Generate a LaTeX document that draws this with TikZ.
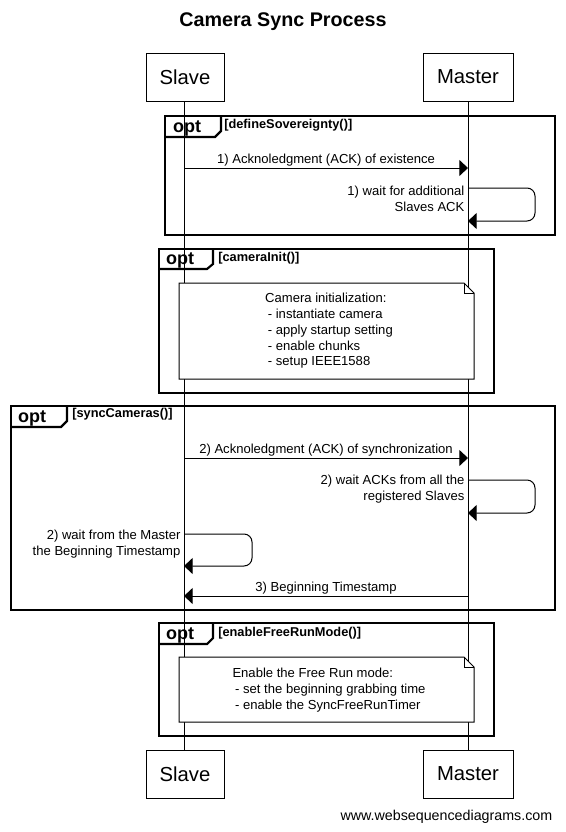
\documentclass[tikz,border=0pt]{standalone}
\usepackage{fontspec}
\setmainfont{Liberation Sans}
\usetikzlibrary{arrows.meta, positioning}

\begin{document}
\begin{tikzpicture}[x=0.75pt, y=-0.75pt,
    actor/.style={draw, line width=0.75pt, minimum height=36pt, font=\fontsize{15.2}{18}\selectfont},
    life/.style={line width=0.75pt},
    frame/.style={line width=1.6pt},
    msg/.style={line width=0.75pt, -{Triangle[length=6.5pt, width=12pt]}},
    txt/.style={font=\fontsize{9.8}{12}\selectfont, inner sep=1pt},
    tag/.style={font=\bfseries\fontsize{13.5}{15}\selectfont, inner sep=0pt},
    guard/.style={font=\bfseries\fontsize{9.6}{11}\selectfont, inner sep=0pt, anchor=west},
    note/.style={draw, fill=white, line width=0.75pt}]
  \useasboundingbox (0,0) rectangle (565,832);
  \node[font=\bfseries\fontsize{14.8}{17}\selectfont] (title) at (283,22) {Camera Sync Process};
  % participants
  \node[actor, minimum width=58.5pt] (slaveTop) at (185,77) {Slave};
  \node[actor, minimum width=67.5pt] (masterTop) at (468,77) {Master};
  \node[actor, minimum width=58.5pt] (slaveBot) at (185,774) {Slave};
  \node[actor, minimum width=67.5pt] (masterBot) at (468,774) {Master};
  \draw[life] (184,101) -- (184,750);
  \draw[life] (468,101) -- (468,750);

  % opt 1
  \draw[frame] (165,116) rectangle (555,235);
  \draw[frame] (221,116) -- (221,131) -- (215,137) -- (165,137);
  \node[tag] (opt1) at (187,128) {opt};
  \node[guard] (g1) at (224,125) {[defineSovereignty()]};
  \coordinate (s1) at (184,168);
  \coordinate (m1) at (468,168);
  \draw[msg] (s1) -- node[txt, above] {1) Acknoledgment (ACK) of existence} (m1);
  \coordinate (m1a) at (468,188);
  \coordinate (m1b) at (468,221);
  \draw[msg, rounded corners=6pt] (m1a) -| (535,204) |- (m1b);
  \node[txt, align=right, anchor=east] (w1) at (466,199) {1) wait for additional\\Slaves ACK};

  % opt 2
  \draw[frame] (159,249) rectangle (494,393);
  \draw[frame] (213,249) -- (213,264) -- (207,269) -- (159,269);
  \node[tag] (opt2) at (180,260) {opt};
  \node[guard] (g2) at (218,258) {[cameraInit()]};
  \draw[note] (179,283) -- (464,283) -- (474,293) -- (474,379) -- (179,379) -- cycle;
  \draw[line width=0.75pt] (464,283) |- (474,293);
  \node[txt, align=left, font=\fontsize{9.8}{11.8}\selectfont] (n1) at (329,331)
    {Camera initialization:\\\hspace*{2pt}- instantiate camera\\\hspace*{2pt}- apply startup setting\\\hspace*{2pt}- enable chunks\\\hspace*{2pt}- setup IEEE1588};

  % opt 3
  \draw[frame] (11,406) rectangle (555,610);
  \draw[frame] (67,406) -- (67,421) -- (61,427) -- (11,427);
  \node[tag] (opt3) at (32,418) {opt};
  \node[guard] (g3) at (72,414) {[syncCameras()]};
  \coordinate (s2) at (184,458);
  \coordinate (m2) at (468,458);
  \draw[msg] (s2) -- node[txt, above] {2) Acknoledgment (ACK) of synchronization} (m2);
  \coordinate (m2a) at (468,480);
  \coordinate (m2b) at (468,513);
  \draw[msg, rounded corners=6pt] (m2a) -| (535,496) |- (m2b);
  \node[txt, align=right, anchor=east] (w2) at (466,489) {2) wait ACKs from all the\\registered Slaves};
  \coordinate (s3a) at (184,534);
  \coordinate (s3b) at (184,566);
  \draw[msg, rounded corners=6pt] (s3a) -| (252,550) |- (s3b);
  \node[txt, align=right, anchor=east] (w3) at (182,544) {2) wait from the Master\\the Beginning Timestamp};
  \coordinate (m3) at (468,596);
  \coordinate (s4) at (184,596);
  \draw[msg] (m3) -- node[txt, above] {3) Beginning Timestamp} (s4);

  % opt 4
  \draw[frame] (159,623) rectangle (494,736);
  \draw[frame] (213,623) -- (213,638) -- (207,644) -- (159,644);
  \node[tag] (opt4) at (180,635) {opt};
  \node[guard] (g4) at (218,633) {[enableFreeRunMode()]};
  \draw[note] (179,657) -- (464,657) -- (474,667) -- (474,722) -- (179,722) -- cycle;
  \draw[line width=0.75pt] (464,657) |- (474,667);
  \node[txt, align=left, font=\fontsize{9.8}{11.8}\selectfont] (n2) at (329,690)
    {Enable the Free Run mode:\\\hspace*{2pt}- set the beginning grabbing time\\\hspace*{2pt}- enable the SyncFreeRunTimer};

  \node[font=\fontsize{10.7}{12}\selectfont, anchor=east] (site) at (557,817) {www.websequencediagrams.com};
\end{tikzpicture}
\end{document}
